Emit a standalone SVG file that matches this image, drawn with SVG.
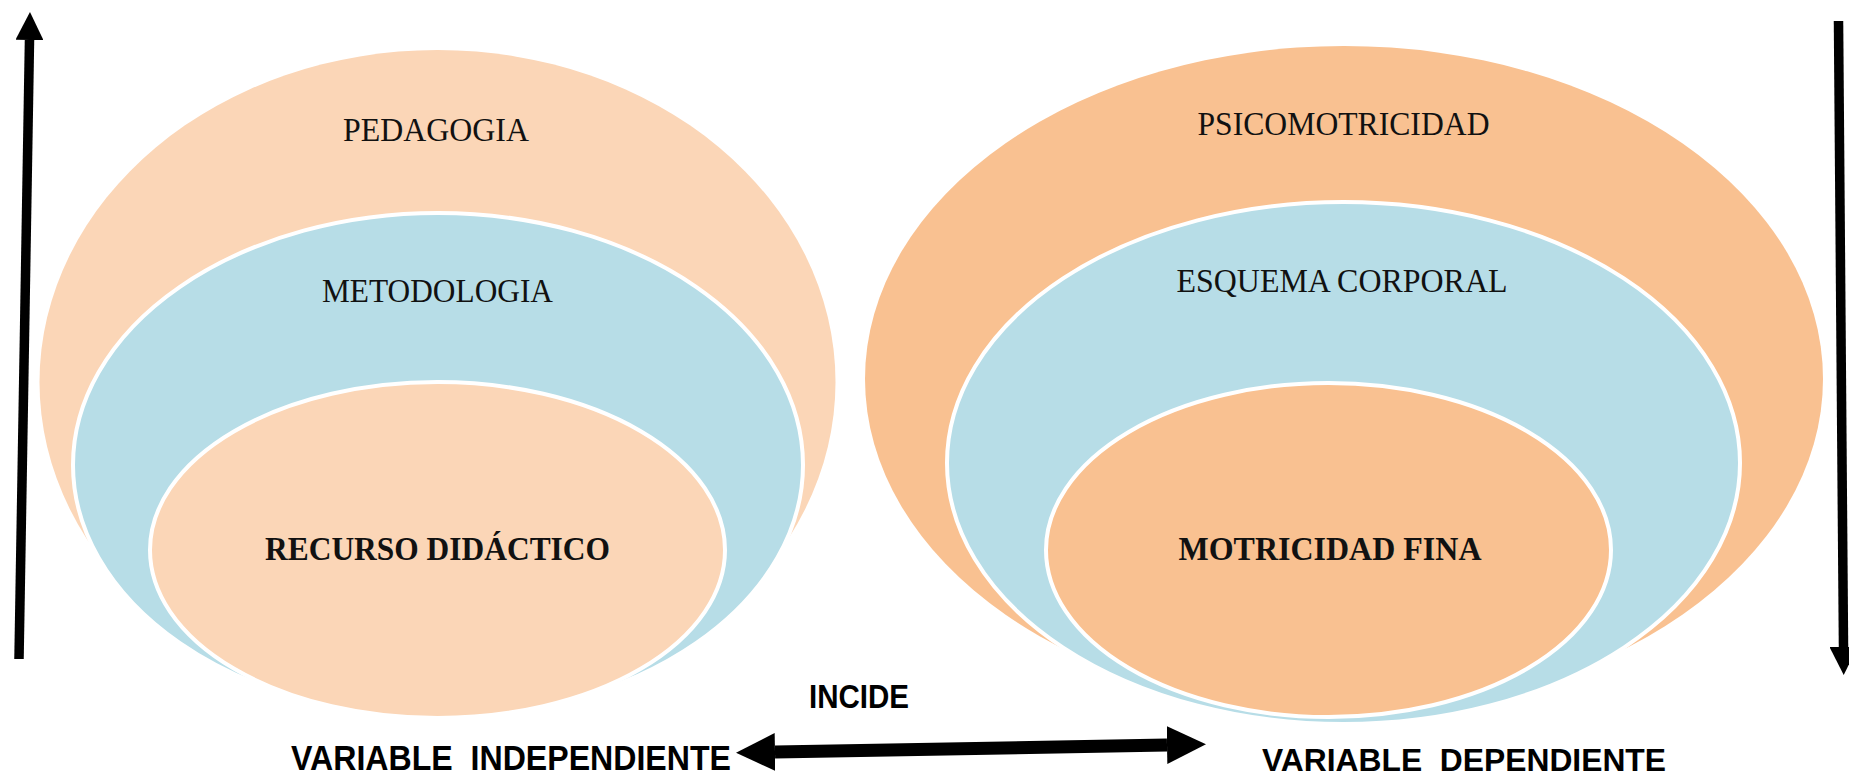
<svg xmlns="http://www.w3.org/2000/svg" width="1849" height="777" viewBox="0 0 1849 777">
<style>
.peachL{fill:#FBD6B7}
.peachR{fill:#F9C191}
.blue{fill:#B7DDE7}
.ring{stroke:#FFFFFF;stroke-width:4}
.lbl{font-family:"Liberation Serif","Times New Roman",serif;font-size:34px;fill:#111111;text-anchor:middle}
.lblb{font-family:"Liberation Serif","Times New Roman",serif;font-size:34px;font-weight:bold;fill:#111111;text-anchor:middle}
.cap{font-family:"Liberation Sans",Arial,sans-serif;font-weight:bold;fill:#000000}
.shaft{stroke:#000000;fill:none}
</style>
<defs>
<marker id="headV" markerUnits="userSpaceOnUse" markerWidth="28" markerHeight="28" viewBox="0 0 28 28" refX="0" refY="14" orient="auto-start-reverse">
<path d="M0,0 L28,14 L0,28 Z" fill="#000000"/>
</marker>
<marker id="headH" markerUnits="userSpaceOnUse" markerWidth="39" markerHeight="38" viewBox="0 0 39 38" refX="0" refY="19" orient="auto-start-reverse">
<path d="M0,0 L39,19 L0,38 Z" fill="#000000"/>
</marker>
</defs>
<rect x="0" y="0" width="1849" height="777" fill="#FFFFFF"/>

<g id="pedagogia">
<ellipse class="peachL" cx="437.5" cy="382" rx="398" ry="332"/>
<text class="lbl" x="436" y="141" textLength="186" lengthAdjust="spacingAndGlyphs">PEDAGOGIA</text>
</g>
<g id="metodologia">
<ellipse class="blue ring" cx="438" cy="465" rx="365" ry="252"/>
<text class="lbl" x="437.5" y="302" textLength="231" lengthAdjust="spacingAndGlyphs">METODOLOGIA</text>
</g>
<g id="recurso-didactico">
<ellipse class="peachL ring" cx="437.5" cy="550" rx="287.5" ry="168"/>
<text class="lblb" x="437.5" y="560" textLength="345" lengthAdjust="spacingAndGlyphs">RECURSO DIDÁCTICO</text>
</g>

<g id="psicomotricidad">
<ellipse class="peachR" cx="1344" cy="379" rx="479" ry="333"/>
<text class="lbl" x="1343.5" y="135" textLength="292" lengthAdjust="spacingAndGlyphs">PSICOMOTRICIDAD</text>
</g>
<g id="esquema-corporal">
<ellipse class="blue ring" cx="1343.5" cy="463" rx="396.5" ry="261"/>
<text class="lbl" x="1342" y="292" textLength="331" lengthAdjust="spacingAndGlyphs">ESQUEMA CORPORAL</text>
</g>
<g id="motricidad-fina">
<ellipse class="peachR ring" cx="1328.5" cy="550" rx="282.5" ry="167"/>
<text class="lblb" x="1330" y="560" textLength="303" lengthAdjust="spacingAndGlyphs">MOTRICIDAD FINA</text>
</g>

<g id="connectors">
<line class="shaft" x1="19" y1="659" x2="29.5" y2="40" stroke-width="9.5" marker-end="url(#headV)"/>
<line class="shaft" x1="1838.5" y1="21" x2="1843.5" y2="647" stroke-width="9.5" marker-end="url(#headV)"/>
<line class="shaft" x1="775" y1="752" x2="1167" y2="745" stroke-width="13" marker-start="url(#headH)" marker-end="url(#headH)"/>
</g>

<g id="labels">
<text class="cap" x="809" y="708" font-size="33" textLength="100" lengthAdjust="spacingAndGlyphs">INCIDE</text>
<text class="cap" x="291" y="770" font-size="35" textLength="440" lengthAdjust="spacingAndGlyphs">VARIABLE&#160; INDEPENDIENTE</text>
<text class="cap" x="1262" y="771" font-size="31" textLength="404" lengthAdjust="spacingAndGlyphs">VARIABLE&#160; DEPENDIENTE</text>
</g>
</svg>
